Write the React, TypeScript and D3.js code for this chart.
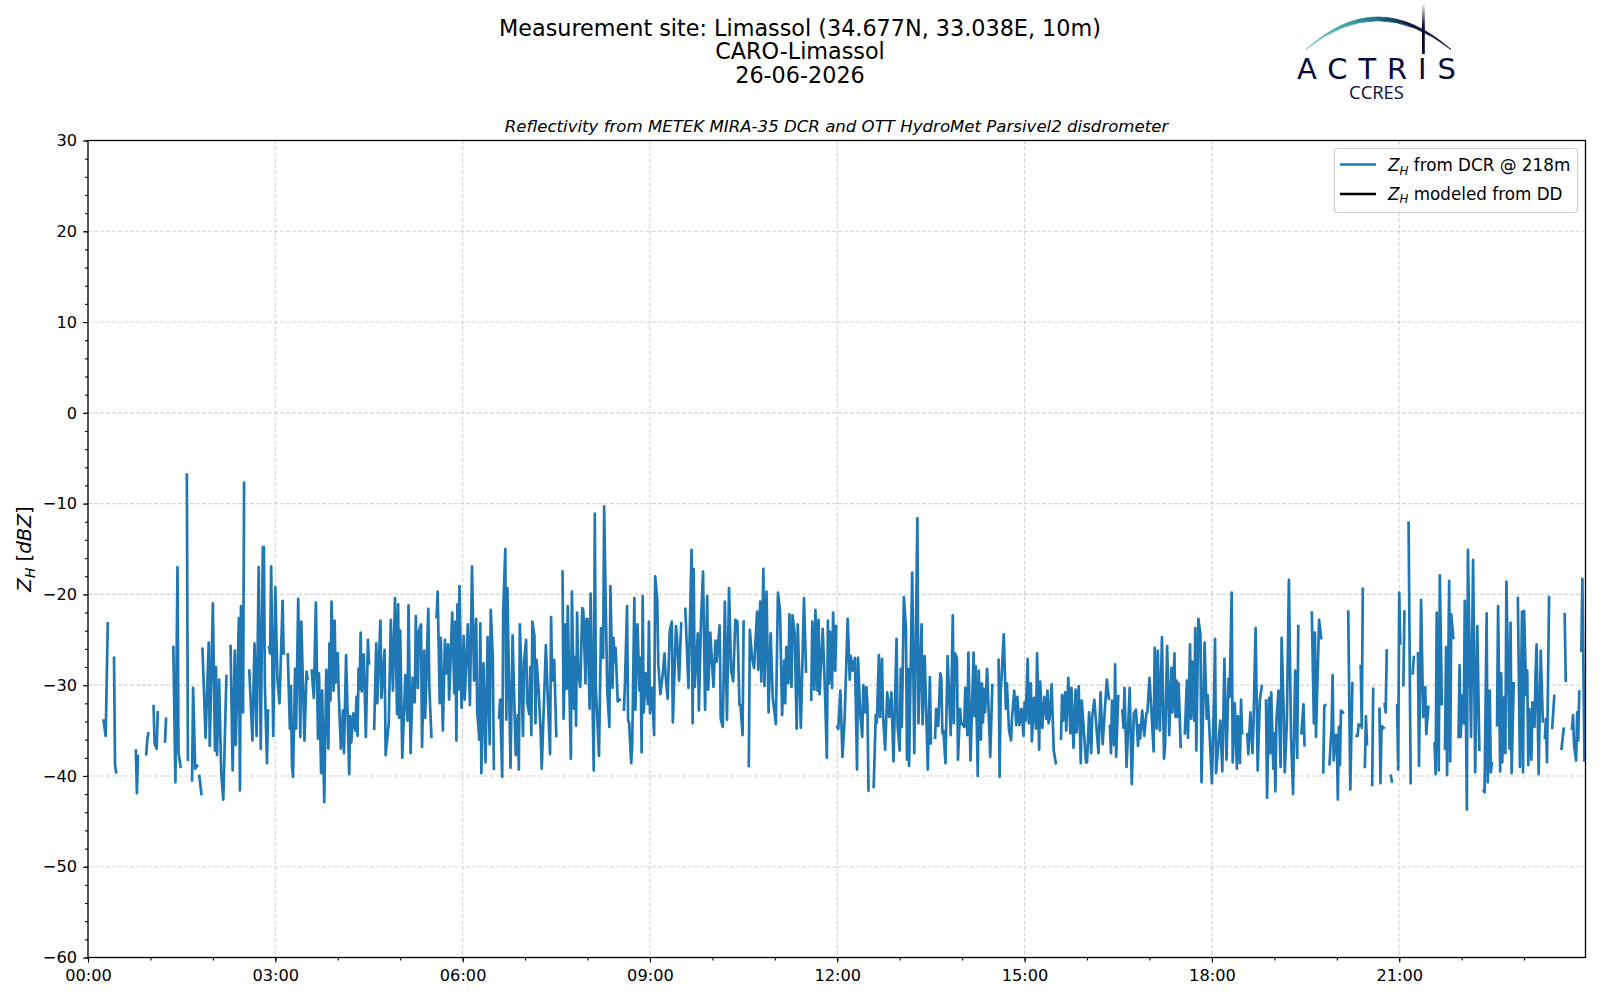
import React, { useEffect, useRef } from "react";
import * as d3 from "d3";

type Sample = [number, number | null];
const G: Sample = [0, null];

// Minutes after midnight, reflectivity in dBZ; G marks a gap in the record.
const hours00to04: Sample[] = [
[15,-33.9],[17,-35.6],[19,-23.2],G,[25,-27],[26,-38.8],[27,-39.6],G,[46,-37.2],[47,-41.9],[48,-37.8],G,[56,-37.6],[57,-36],[58,-35.3],G,
[63,-32.3],[64,-36.4],[65,-36.7],[66,-37],[67,-33],G,[74,-36.2],[75,-33.7],G,[82,-25.8],[84,-40.7],[86,-17],[87,-37.5],[89,-39],G,[95,-6.8],[96,-38.2],G,
[100,-40.5],[101,-30.3],[103,-39.2],[105,-38.9],G,[107,-40],[109,-42],G,
[110,-26],[113,-35.8],[116,-25.3],[117,-36.7],[120,-21],[122,-37.2],[123,-28],[124,-37.7],[126,-29.4],[128,-39.7],[130,-42.6],[133,-29],G,
[137,-25.7],[139,-39.4],[141,-26.2],[142,-36.6],[144,-27],[145,-22.6],[146,-41.6],[147,-21.3],[149,-33],[150,-7.7],G,
[155,-28.4],[158,-36.1],[160,-25.4],[162,-35.6],[164,-17],[166,-37],[168,-14.8],[169,-14.8],[170,-30.2],[172,-38.6],[173,-32.8],G,
[174,-25.8],[175,-26.5],[176,-16.9],[178,-35.6],[180,-19.2],[182,-29.3],[184,-32],[187,-20.7],[188,-26.5],G,
[192,-26.6],[194,-34.8],[195,-30.1],[196,-38.8],[197,-40.1],[199,-28.2],[200,-34.8],[202,-20.5],[204,-35.7],[205,-23],[206,-27.5],[208,-36.1],[210,-28.5],[211,-29.3],G,
[215,-28.4],[217,-31.4],[219,-20.9],[221,-35.9],[222,-28.7],[224,-39.7],[225,-30.6],[227,-42.9],[229,-28.3],[231,-37],[232,-25.4],[233,-31.7],[234,-20.8],[236,-30.6],[237,-22.9],[238,-29.7],[239,-26.5],
];

const hours04to08: Sample[] = [
[240,-26.5],[241,-31.1],[243,-37],[245,-32.8],[246,-37.5],[248,-26.7],[251,-39.8],[252,-33.4],[253,-36.3],[255,-33.1],[257,-35],[258,-31.3],[259,-35.6],[260,-28.2],[261,-30.4],[262,-24.2],[263,-30.7],[265,-26.6],[267,-35.7],[269,-25],[270,-27.6],G,
[275,-34.8],[277,-25.4],[278,-32],[281,-22.9],[282,-31.4],[285,-26.1],[286,-37.7],[289,-34.2],[291,-22.8],[293,-30.6],[295,-20.4],[297,-33.2],[298,-21.1],[299,-33.6],[300,-24],[302,-38],[305,-28.9],[307,-33.9],[308,-21.2],[310,-37.5],[312,-29.2],[314,-31.9],[315,-22.4],[317,-30.3],[318,-24.1],[320,-23.3],[321,-36.8],[323,-26.2],[324,-33.6],[327,-21.6],[328,-30.2],[330,-35.7],G,
[335,-22.5],[336,-19.7],[338,-32],[339,-24.8],[341,-35],[343,-25],[344,-28.7],[346,-25.5],[347,-31.6],[350,-22],[352,-30.9],[353,-23],[354,-36.1],[355,-21.1],[356,-30.5],[357,-19.1],[359,-32.5],[361,-24.6],[362,-31.6],[365,-23.3],[367,-32.2],[369,-16.9],[371,-29.5],[373,-22.7],[374,-32.8],[376,-36],[377,-23.2],[378,-39.7],[380,-27.6],[382,-38.5],[384,-24.7],[386,-36.5],[387,-21.7],[389,-27],[390,-39.2],G,
[395,-33.6],[396,-31.6],[398,-40.1],[399,-21.8],[401,-15],[402,-33.8],[403,-19.3],[406,-39.1],[408,-24.5],[411,-37.7],[413,-33.3],[414,-39.3],[415,-23.3],[418,-35.6],[419,-27.4],[421,-25],[422,-31.9],[424,-33.2],[425,-28],[426,-35.5],[427,-23],[429,-24.6],[430,-34.2],[431,-27.2],[433,-30.5],[435,-35.3],[436,-39.2],[440,-25.6],[442,-31.9],[444,-37.6],[445,-22.5],[446,-29.5],[448,-27.2],[450,-35.6],G,
[456,-17.5],[457,-33.7],[459,-23.3],[460,-30.4],[461,-21.3],[464,-38.1],[465,-19.7],[467,-32.6],[468,-26.9],[469,-34.5],[470,-22],[471,-28.4],[473,-30.2],[475,-21.5],[476,-21.8],[478,-29.8],[479,-22.7],
];

const hours08to12: Sample[] = [
[480,-22.7],[482,-32.6],[483,-19.9],[486,-39.4],[487,-11.1],[488,-30.4],[490,-35.2],[491,-37.8],[493,-23.7],[495,-27],[496,-10.3],[497,-17.8],[499,-30.6],[501,-34.6],[502,-19.1],[504,-30.3],[505,-24.8],[506,-27.5],[507,-25.9],[509,-31.8],[511,-31.6],G,
[515,-32.7],[516,-29.8],[518,-21.3],[519,-33.9],[520,-34.2],[522,-38.6],[523,-36.4],[525,-20.4],[526,-32.7],[528,-23.3],[530,-30.6],[531,-27],[532,-37.4],[533,-20.2],[534,-33],[536,-28.7],[538,-32.1],[539,-23],[540,-33.1],[542,-30.3],[544,-35.5],[545,-18],[547,-20.6],[548,-27.6],[550,-31],[552,-29.1],[554,-26.5],[555,-28.9],[557,-31.5],[559,-24.1],[561,-23],[562,-34.1],[565,-23.5],[566,-24.7],[568,-29.5],[570,-23.2],G,
[574,-21.6],[577,-30.3],[580,-15.1],[581,-34.2],[582,-17.2],[583,-30.2],[586,-24.3],[587,-32.8],[589,-23.1],[591,-17.5],[593,-32.7],[595,-20.2],[596,-30.5],[598,-24.2],[601,-30.2],[603,-25.1],[604,-27.4],[607,-23.4],[608,-33.7],[610,-34.6],[612,-20.8],[614,-33.8],[616,-19.3],[618,-28.4],[620,-29.6],[622,-22.8],[624,-23],[626,-32.2],[627,-32.2],[629,-35.5],[630,-23],G,
[635,-38.9],[636,-23.9],[638,-26.9],[640,-28.1],[643,-21.9],[644,-28.3],[646,-20.8],[647,-29.6],[649,-17.2],[650,-30.1],[652,-19.7],[654,-33],[656,-24.3],[658,-31.4],[661,-34.3],[663,-19.8],[665,-21.8],[667,-33.3],[669,-27.3],[670,-32],[671,-25.8],[673,-29.8],[674,-22.2],[676,-30.2],[677,-22.3],[679,-24.3],[681,-34.8],[682,-23.3],[685,-34.7],[688,-20.4],[690,-28.5],G,
[695,-31.6],[696,-23],[698,-30.5],[699,-21.7],[701,-30.6],[702,-22.8],[703,-31],[706,-23.8],[708,-30],[710,-38],[711,-22.9],[712,-29.8],[713,-24.1],[715,-30.3],[716,-22],[718,-28.4],[719,-23.5],
];

const hours12to16: Sample[] = [
[720,-34.6],[721,-34.8],[723,-30.6],[725,-37.9],[727,-33.9],[730,-22.7],[732,-29.4],[733,-26.8],[735,-28.4],[737,-27],[739,-39.3],[740,-27],[742,-33.1],[744,-35.7],[745,-30],[747,-33],[748,-30.2],[749,-32.2],[750,-41.6],G,
[755,-41.2],[757,-33.3],[758,-34.1],[760,-26.7],[761,-33.5],[763,-27.1],[764,-33.5],[766,-37.1],[768,-30.8],[770,-33.5],[772,-30.8],[774,-38.4],[777,-24.9],[778,-34.6],[780,-37.2],[781,-28.2],[782,-34.6],[784,-20.3],[786,-23.8],[787,-38.2],[788,-28.2],[789,-38.9],[792,-17.6],[794,-37.5],[797,-11.6],[798,-34.2],[801,-23.3],[802,-34.3],[804,-26.8],[807,-39.3],[809,-29.1],[810,-36.4],G,
[814,-35.8],[815,-32.6],[817,-34.5],[819,-28.7],[820,-29.2],[821,-35.3],[822,-35],[824,-38.6],[826,-26.8],[829,-35.5],[831,-22.3],[832,-34.2],[833,-26.5],[835,-27],[836,-38.2],[838,-32.6],[839,-34.1],[842,-34.6],[843,-30.3],[845,-35.5],[846,-26.4],[848,-38.3],[851,-26.4],[852,-33.4],[853,-27.9],[855,-40],[856,-28.4],[858,-36],[859,-29.8],[860,-34.1],[861,-30.4],[862,-33],[864,-28.2],[867,-37.9],[869,-30],G,
[875,-27.2],[876,-40.1],[877,-30.9],[880,-24.4],[882,-32.6],[883,-29.8],[885,-34.9],[887,-36.1],[888,-33.4],[890,-30.6],[892,-34.4],[893,-31.3],[895,-34.4],[897,-32.6],[899,-35.6],[900,-31.9],[901,-33.9],[903,-27.1],[904,-34.2],[906,-29.8],[907,-36.2],[909,-31.4],[911,-34.8],[912,-26.5],[914,-37.1],[915,-29.6],[917,-34.7],[919,-31.3],[921,-33.7],[922,-30.6],[923,-34.2],[924,-33.7],[926,-29.9],[928,-37.2],[930,-38.6],G,
[935,-35.9],[936,-31.1],[937,-33.9],[939,-30.8],[940,-35],[942,-29.2],[944,-35.3],[945,-30.3],[947,-36.9],[949,-30.5],[950,-35.2],[952,-30.1],[954,-38.6],[955,-31.7],[959,-38.5],
];

const hours16to20: Sample[] = [
[960,-38.5],[962,-33],[964,-37.5],[965,-33.5],[967,-31.6],[971,-37.5],[973,-30.8],[975,-36.5],[979,-29.4],[981,-31.5],G,
[982,-34.5],[983,-37.5],[984,-31.7],[986,-36.6],[987,-27.7],[988,-37.9],[990,-31.2],G,
[994,-32.8],[995,-34.7],[996,-30.3],[998,-39],[1001,-30.3],[1003,-40.9],[1005,-33.1],[1007,-32.7],[1009,-36.7],[1010,-34.4],[1011,-35.9],[1013,-32.8],[1015,-35.6],[1017,-33.1],[1018,-33],[1020,-29.2],[1022,-33.1],[1024,-37.3],[1025,-25.9],[1027,-34.8],[1028,-26.2],[1030,-35],[1032,-24.7],[1034,-38.1],[1035,-36.6],[1037,-25.7],[1039,-35.5],[1041,-28.1],[1042,-33],[1044,-26.5],[1045,-33.5],[1046,-29.5],[1047,-33.5],[1048,-29.8],[1050,-36.8],G,
[1054,-35.3],[1056,-29.5],[1057,-35.8],[1059,-25.5],[1060,-33.7],[1061,-27.4],[1063,-33.9],[1064,-23.7],[1065,-37.2],[1067,-22.7],[1069,-24.5],[1070,-40.7],[1073,-25.3],[1075,-33.7],[1076,-31.1],[1078,-35.9],[1080,-40.8],[1082,-31.6],[1083,-24.9],[1084,-39.7],[1088,-33.9],[1090,-39.5],[1092,-27.1],[1094,-38.2],[1096,-29.3],[1097,-31.3],[1099,-19.8],[1100,-38.5],[1102,-32],[1104,-39.2],[1105,-33.4],[1107,-38.6],[1108,-31.6],[1109,-35.3],G,
[1114,-35.4],[1115,-37.6],[1117,-33],[1119,-37.5],[1120,-34],[1122,-23.7],[1124,-39.4],[1126,-31.7],[1128,-30.1],G,
[1132,-31.7],[1133,-42.4],[1135,-31.4],[1136,-37.5],[1137,-30.8],[1139,-39.2],[1140,-35.3],[1141,-41.7],[1142,-33.9],[1144,-30.6],[1146,-39],[1147,-24.8],[1149,-33.1],[1150,-39.6],[1152,-34.2],[1154,-18.4],[1156,-35.5],[1158,-42],[1160,-28.4],[1162,-38],[1163,-23.5],G,
[1166,-35.3],[1168,-32.1],[1169,-36.6],G,
[1176,-22],[1178,-34.2],[1179,-24.2],[1180,-35.7],[1183,-22.8],[1185,-24.8],G,
[1187,-39.6],[1188,-32.3],[1189,-32.2],G,
[1193,-38.7],[1195,-34.5],[1196,-28.9],[1197,-38.3],[1199,-35.5],
];

const hours20to24: Sample[] = [
[1200,-35.5],[1201,-42.6],[1202,-34.6],[1203,-38.8],[1204,-32.8],[1206,-33],G,
[1211,-21.9],[1213,-41.5],[1215,-29.8],G,
[1219,-35.6],[1220,-35.6],[1221,-34.3],[1222,-34.4],G,[1223,-27.9],[1224,-34.7],[1225,-19.4],G,
[1227,-39],[1228,-33.4],[1229,-36.5],G,[1234,-41],[1235,-30.4],G,
[1241,-32.6],[1242,-40.8],[1243,-34.5],[1245,-34.7],G,[1246,-32.1],[1247,-33],[1248,-26.2],G,[1252,-40],[1253,-40.6],G,
[1258,-32.2],[1259,-39.3],[1260,-19.8],[1261,-25.4],G,[1264,-30],[1265,-21.9],G,[1269,-12.1],[1271,-40.8],G,[1273,-28.7],[1274,-26.9],G,
[1278,-26.5],[1279,-38.9],[1281,-20.6],[1283,-33.5],[1285,-30.2],[1286,-35.4],[1288,-32.4],G,
[1294,-36.4],[1295,-39.8],[1296,-22],[1298,-39.4],[1299,-17.9],[1301,-32.1],G,
[1304,-37],[1305,-25.8],[1306,-39.9],[1308,-18.5],[1309,-38.4],[1310,-22.2],[1312,-24.8],G,
[1317,-35.7],[1318,-27.8],[1319,-35.7],[1321,-31.1],[1322,-34.2],[1323,-20.7],[1325,-43.7],[1326,-15.1],[1329,-35.7],[1331,-16.2],[1333,-39.6],[1335,-23.5],[1337,-37.1],G,
[1341,-41.6],[1342,-41.8],[1344,-22.1],[1345,-40.7],[1347,-30.6],[1348,-39.6],[1349,-38.6],G,
[1354,-34.4],[1355,-21.3],[1357,-39.5],[1358,-28.7],[1359,-38.5],[1361,-31.3],[1362,-37.5],[1363,-18.6],[1366,-37],[1367,-23.1],[1368,-39.7],[1370,-29.8],G,
[1374,-20.4],[1376,-39],[1378,-21.9],[1379,-39.6],[1380,-21.8],[1382,-31.1],[1383,-28.4],[1384,-38.8],[1385,-32.6],[1387,-38.2],[1388,-31.9],[1390,-34.6],[1391,-28.8],[1392,-25.5],[1394,-39.8],[1396,-26.2],[1398,-34],G,
[1400,-35.8],[1401,-33.7],[1402,-38.5],[1404,-20.3],G,[1407,-34.7],[1409,-31.2],G,[1416,-37],[1418,-34.8],G,[1419,-22.2],[1420,-29.5],G,
[1426,-34.8],[1427,-33.3],[1428,-36.6],[1430,-38.3],[1431,-33],[1432,-36.1],[1433,-30.7],G,[1435,-26.2],[1436,-18.3],[1438,-38.3],
];

const samples: Sample[] = [...hours00to04, G, ...hours04to08, ...hours08to12, G, ...hours12to16, ...hours16to20, G, ...hours20to24];
const xMajor = [0, 180, 360, 540, 720, 900, 1080, 1260];
const xMinor = d3.range(0, 1439, 60);
const yMajor = [-60, -50, -40, -30, -20, -10, 0, 10, 20, 30];
const yMinor = d3.range(-60, 31, 2);
const titleLines = ["Measurement site: Limassol (34.677N, 33.038E, 10m)", "CARO-Limassol", "26-06-2026"];
const subtitle = "Reflectivity from METEK MIRA-35 DCR and OTT HydroMet Parsivel2 disdrometer";
const legendText = ["from DCR @ 218m", "modeled from DD"];
const legendColors = ["#1f77b4", "#000000"];

const L = 88, R = 1585.5, T = 140.5, B = 957.5;
const FONT = "'DejaVu Sans', sans-serif";
const fmtTime = (m: number) => `${String(Math.floor(m / 60)).padStart(2, "0")}:${String(m % 60).padStart(2, "0")}`;

export default function App() {
  const ax = useRef<SVGGElement>(null);
  const x = d3.scaleLinear().domain([0, 1439]).range([L, R]);
  const y = d3.scaleLinear().domain([-60, 30]).range([B, T]);
  const line = d3.line<Sample>().defined((d) => d[1] !== null).x((d) => x(d[0])).y((d) => y(d[1] as number));

  useEffect(() => {
    const g = d3.select(ax.current);
    g.selectAll("*").remove();
    const styleAxis = (s: any) => {
      s.selectAll("text").attr("font-family", FONT).attr("font-size", 16.2).attr("fill", "#000");
      s.selectAll("line").attr("stroke", "#000").attr("stroke-width", 1.1);
      s.select(".domain").remove();
    };
    g.append("g").attr("transform", `translate(0,${B})`)
      .call(d3.axisBottom(x).tickValues(xMinor).tickSize(3).tickFormat(() => "") as any).call(styleAxis);
    g.append("g").attr("transform", `translate(0,${B})`)
      .call(d3.axisBottom(x).tickValues(xMajor).tickSize(5).tickPadding(6.5).tickFormat((d) => fmtTime(+d)) as any).call(styleAxis);
    g.append("g").attr("transform", `translate(${L},0)`)
      .call(d3.axisLeft(y).tickValues(yMinor).tickSize(3).tickFormat(() => "") as any).call(styleAxis);
    g.append("g").attr("transform", `translate(${L},0)`)
      .call(d3.axisLeft(y).tickValues(yMajor).tickSize(5).tickPadding(6).tickFormat(d3.format("d") as any) as any).call(styleAxis);
  }, []);

  const leftEnd = [1306, 49.5], rightEnd = [1451, 49.5];
  return (
    <svg width={1600} height={1000} style={{ position: "absolute", left: 0, top: 0, background: "#fff" }} fontFamily={FONT}>
      <defs>
        <clipPath id="plot"><rect x={L} y={T} width={R - L} height={B - T} /></clipPath>
        <linearGradient id="arc" gradientUnits="userSpaceOnUse" x1={1306} x2={1451} y1={0} y2={0}>
          <stop offset="0" stopColor="#85cbc6" />
          <stop offset="0.3" stopColor="#3d9ba6" />
          <stop offset="0.5" stopColor="#1c6a82" />
          <stop offset="0.7" stopColor="#0c1c48" />
          <stop offset="1" stopColor="#090a38" />
        </linearGradient>
        <linearGradient id="mast" x1={0} x2={0} y1={0} y2={1}>
          <stop offset="0" stopColor="#ffffff" />
          <stop offset="0.45" stopColor="#090a38" />
          <stop offset="1" stopColor="#090a38" />
        </linearGradient>
      </defs>

      {titleLines.map((t, i) => (
        <text key={t} x={800} y={36 + i * 23.3} textAnchor="middle" fontSize={22.3} fill="#000">{t}</text>
      ))}
      <text x={836.5} y={132} textAnchor="middle" fontSize={16.6} fontStyle="italic" fill="#000">{subtitle}</text>

      <path d={`M${leftEnd} Q1377 -15.5 ${rightEnd} Q1377 -8 ${leftEnd}Z`} fill="url(#arc)" stroke="url(#arc)" strokeWidth={0.8} />
      <rect x={1422} y={3} width={2.8} height={51} fill="url(#mast)" />
      <text x={1297} y={78.5} fontFamily={FONT} fontSize={29} fill="#090a38" textLength={159} lengthAdjust="spacing">ACTRIS</text>
      <text x={1376.5} y={99} textAnchor="middle" fontFamily="'Open Sans', sans-serif" fontSize={18.4} fill="#090a38">CCRES</text>

      <g stroke="#d3d3d3" strokeWidth={1.1} strokeDasharray="4 2">
        {xMajor.map((m) => <line key={m} x1={x(m)} x2={x(m)} y1={T} y2={B} />)}
        {yMajor.map((v) => <line key={v} x1={L} x2={R} y1={y(v)} y2={y(v)} />)}
      </g>

      <path d={line(samples) ?? ""} clipPath="url(#plot)" fill="none" stroke="#1f77b4" strokeWidth={2.7} strokeLinejoin="round" strokeLinecap="square" />

      <rect x={L} y={T} width={R - L} height={B - T} fill="none" stroke="#000" strokeWidth={1.3} />
      <g ref={ax} />

      <rect x={1334.5} y={148.5} width={243} height={64} rx={3} fill="#fff" fillOpacity={0.8} stroke="#d0d0d0" strokeWidth={1.1} />
      {legendText.map((t, i) => (
        <g key={t}>
          <line x1={1340} x2={1376} y1={164.5 + i * 29.5} y2={164.5 + i * 29.5} stroke={legendColors[i]} strokeWidth={2.7} />
          <text x={1388} y={171 + i * 28.8} fontSize={16.8} fill="#000">
            <tspan fontStyle="italic">Z</tspan>
            <tspan fontStyle="italic" fontSize={11.8} dy={3.5}>H</tspan>
            <tspan dy={-3.5}> {t}</tspan>
          </text>
        </g>
      ))}

      <text transform={`translate(31,${(T + B) / 2}) rotate(-90)`} textAnchor="middle" fontSize={19.8} fill="#000">
        <tspan fontStyle="italic">Z</tspan>
        <tspan fontStyle="italic" fontSize={13.8} dy={4}>H</tspan>
        <tspan dy={-4}> [</tspan>
        <tspan fontStyle="italic">dBZ</tspan>
        <tspan>]</tspan>
      </text>
    </svg>
  );
}
